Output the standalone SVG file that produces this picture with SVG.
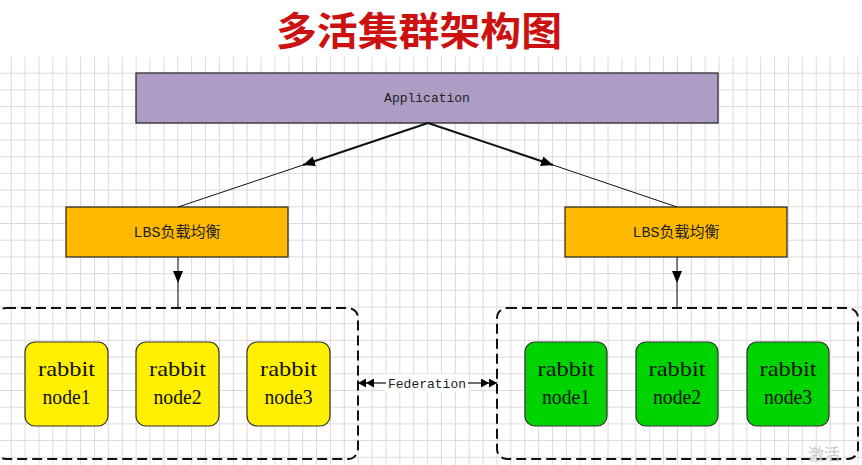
<svg xmlns="http://www.w3.org/2000/svg" width="862" height="465" viewBox="0 0 862 465">
<defs>
<pattern id="grid" patternUnits="userSpaceOnUse" x="10.7" y="56" width="13.88" height="16.7">
<path d="M0.5 0V16.7M0 0.5H13.88" fill="none" stroke="#dadada" stroke-width="1"/>
</pattern>
<marker id="tri" viewBox="0 0 12 10" refX="12" refY="5" markerWidth="12" markerHeight="10" markerUnits="userSpaceOnUse" orient="auto">
<path d="M0 0L12 5L0 10Z" fill="#000"/>
</marker>
<marker id="dbl" viewBox="0 0 16 9" refX="16" refY="4.5" markerWidth="16" markerHeight="9" markerUnits="userSpaceOnUse" orient="auto">
<path d="M0 0L8 4.5L0 9ZM8 0L16 4.5L8 9Z" fill="#000"/>
</marker>
</defs>
<style>
.title{font-family:"Noto Sans CJK SC","Noto Sans",sans-serif;font-weight:bold;font-size:39px;fill:#cc1111;text-anchor:middle}
.mono{font-family:"Liberation Mono","Noto Sans CJK SC",monospace;font-size:13px;fill:#222;text-anchor:middle}
.lbs{font-family:"Liberation Mono","Noto Sans CJK SC",monospace;font-size:15px;fill:#222;text-anchor:middle}
.node{font-family:"Liberation Serif",serif;font-size:21px;fill:#111;text-anchor:middle}
.box{stroke:#222;stroke-width:1.2}
.rn{stroke:#333;stroke-width:1.2}
.cluster{fill:none;stroke:#111;stroke-width:2;stroke-dasharray:10 5}
.ln{stroke:#111;fill:none}
</style>
<rect x="0" y="0" width="862" height="465" fill="#fff"/>
<rect x="0" y="57" width="862" height="408" fill="url(#grid)"/>
<text class="title" x="419" y="45" textLength="286" lengthAdjust="spacingAndGlyphs">多活集群架构图</text>

<g id="application">
<rect class="box" x="136" y="73" width="582" height="50" fill="#ad9dc4"/>
<text class="mono" x="427" y="102">Application</text>
</g>
<g id="lbs-left">
<rect class="box" x="66" y="207" width="222" height="50" fill="#ffb900"/>
<text class="lbs" x="177" y="237">LBS负载均衡</text>
</g>
<g id="lbs-right">
<rect class="box" x="565" y="207" width="222" height="50" fill="#ffb900"/>
<text class="lbs" x="676" y="237">LBS负载均衡</text>
</g>

<g id="cluster-left">
<rect class="cluster" x="-4" y="308" width="362" height="151" rx="10"/>
</g>
<g id="cluster-right">
<rect class="cluster" x="497" y="308" width="361" height="151" rx="10"/>
</g>

<g id="y1"><rect class="rn" x="25" y="342" width="83" height="84" rx="10" fill="#fff000"/><text class="node" x="66.5" y="376" textLength="57" lengthAdjust="spacingAndGlyphs">rabbit</text><text class="node" x="66.5" y="404" textLength="48" lengthAdjust="spacingAndGlyphs">node1</text></g>
<g id="y2"><rect class="rn" x="136" y="342" width="83" height="84" rx="10" fill="#fff000"/><text class="node" x="177.5" y="376" textLength="57" lengthAdjust="spacingAndGlyphs">rabbit</text><text class="node" x="177.5" y="404" textLength="48" lengthAdjust="spacingAndGlyphs">node2</text></g>
<g id="y3"><rect class="rn" x="247" y="342" width="83" height="84" rx="10" fill="#fff000"/><text class="node" x="288.5" y="376" textLength="57" lengthAdjust="spacingAndGlyphs">rabbit</text><text class="node" x="288.5" y="404" textLength="48" lengthAdjust="spacingAndGlyphs">node3</text></g>
<g id="g1"><rect class="rn" x="525" y="342" width="82" height="84" rx="10" fill="#00d400"/><text class="node" x="566" y="376" textLength="57" lengthAdjust="spacingAndGlyphs">rabbit</text><text class="node" x="566" y="404" textLength="48" lengthAdjust="spacingAndGlyphs">node1</text></g>
<g id="g2"><rect class="rn" x="636" y="342" width="82" height="84" rx="10" fill="#00d400"/><text class="node" x="677" y="376" textLength="57" lengthAdjust="spacingAndGlyphs">rabbit</text><text class="node" x="677" y="404" textLength="48" lengthAdjust="spacingAndGlyphs">node2</text></g>
<g id="g3"><rect class="rn" x="747" y="342" width="82" height="84" rx="10" fill="#00d400"/><text class="node" x="788" y="376" textLength="57" lengthAdjust="spacingAndGlyphs">rabbit</text><text class="node" x="788" y="404" textLength="48" lengthAdjust="spacingAndGlyphs">node3</text></g>

<g id="connectors">
<line class="ln" x1="428" y1="123" x2="303" y2="165" stroke-width="2" marker-end="url(#tri)"/>
<line class="ln" x1="303" y1="165" x2="178" y2="207" stroke-width="1"/>
<line class="ln" x1="428" y1="123" x2="553" y2="165" stroke-width="2" marker-end="url(#tri)"/>
<line class="ln" x1="553" y1="165" x2="677" y2="207" stroke-width="1"/>
<line class="ln" x1="178" y1="257" x2="178" y2="283" stroke-width="1" marker-end="url(#tri)"/>
<line class="ln" x1="178" y1="283" x2="178" y2="308" stroke-width="1"/>
<line class="ln" x1="677" y1="257" x2="677" y2="283" stroke-width="1" marker-end="url(#tri)"/>
<line class="ln" x1="677" y1="283" x2="677" y2="308" stroke-width="1"/>
<rect x="385" y="374" width="84" height="18" fill="#fff"/>
<line class="ln" x1="386" y1="383" x2="358" y2="383" stroke-width="1.2" marker-end="url(#dbl)"/>
<line class="ln" x1="468" y1="383" x2="497" y2="383" stroke-width="1.2" marker-end="url(#dbl)"/>
<text class="mono" x="427" y="388">Federation</text>
</g>
<text x="808" y="460" font-family="Noto Sans CJK SC,sans-serif" font-size="16" fill="#c8c8c8">激活</text>
</svg>
